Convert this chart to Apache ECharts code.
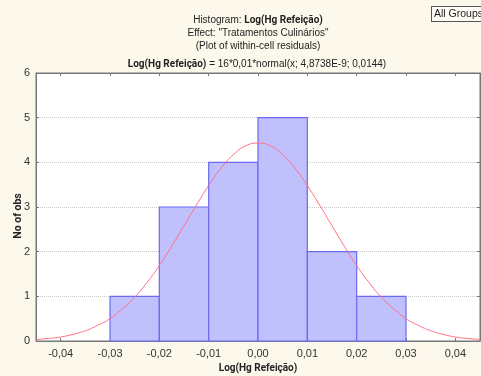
<!DOCTYPE html>
<html>
<head>
<meta charset="utf-8">
<script src="https://cdn.jsdelivr.net/npm/echarts@6/dist/echarts.min.js"></script>
<style>
  html, body { margin: 0; padding: 0; background: #fdf8ec; }
  #chart { width: 481px; height: 376px; }
</style>
</head>
<body>
<div id="chart"></div>
<script>
// Histogram bins (lower edge, upper edge) and counts
const binStarts = [-0.03, -0.02, -0.01, 0.00, 0.01, 0.02];
const binEnds   = [-0.02, -0.01, 0.00, 0.01, 0.02, 0.03];
const counts    = [1, 3, 4, 5, 2, 1];

// Fitted normal curve, sampled along the x range
const curveX = [-0.045, -0.0425, -0.04, -0.0375, -0.035, -0.0325, -0.03, -0.0275, -0.025, -0.0225,
                -0.02, -0.0175, -0.015, -0.0125, -0.01, -0.0075, -0.005, -0.0025, 0,
                0.0025, 0.005, 0.0075, 0.01, 0.0125, 0.015, 0.0175, 0.02, 0.0225, 0.025,
                0.0275, 0.03, 0.0325, 0.035, 0.0375, 0.04, 0.0425, 0.045];
const curveY = [0.034, 0.057, 0.09, 0.15, 0.23, 0.35, 0.50, 0.72, 0.98, 1.31,
                1.69, 2.12, 2.58, 3.04, 3.48, 3.87, 4.17, 4.37, 4.43,
                4.37, 4.17, 3.87, 3.48, 3.04, 2.58, 2.12, 1.69, 1.31, 0.98,
                0.72, 0.50, 0.35, 0.23, 0.15, 0.09, 0.057, 0.034];

// Tick labels
const xTicks = [-0.04, -0.03, -0.02, -0.01, 0.00, 0.01, 0.02, 0.03, 0.04];

const fmtX = v => (Math.abs(v) < 1e-9 ? 0 : v).toFixed(2).replace('.', ',');

const labelFont = 'Liberation Sans, Arial, sans-serif';
const boldFont = 'Roboto, DejaVu Sans, sans-serif';
const axisColor = '#777';

const chart = echarts.init(document.getElementById('chart'), null, { renderer: 'canvas' });

const binData = binStarts.map((s, i) => [s, binEnds[i], counts[i]]);
const curveData = curveX.map((x, i) => [x, curveY[i]]);

chart.setOption({
  backgroundColor: '#fdf8ec',
  animation: false,
  title: [
    {
      text: 'Histogram: {b|Log(Hg Refeição)}\nEffect: "Tratamentos Culinários"\n(Plot of within-cell residuals)',
      left: 253, top: 9, textAlign: 'center',
      textStyle: {
        fontFamily: labelFont, fontSize: 10, fontWeight: 'normal', color: '#222', lineHeight: 13,
        rich: { b: { fontFamily: boldFont, fontWeight: 'bold', fontSize: 10, color: '#222', lineHeight: 13 } }
      }
    },
    {
      text: '{b|Log(Hg Refeição)} = 16*0,01*normal(x; 4,8738E-9; 0,0144)',
      left: 252, top: 54, textAlign: 'center',
      textStyle: {
        fontFamily: labelFont, fontSize: 10, fontWeight: 'normal', color: '#222',
        rich: { b: { fontFamily: boldFont, fontWeight: 'bold', fontSize: 10, color: '#222' } }
      }
    }
  ],
  graphic: [
    {
      type: 'text', left: 431, top: 6,
      style: {
        text: 'All Groups', fontFamily: labelFont, fontSize: 10.5, fill: '#222',
        backgroundColor: '#fffdf6', borderColor: '#555', borderWidth: 1, padding: [2, 2, 1, 2]
      }
    },
    {
      // vertical axis title
      type: 'text', x: 18, y: 216, rotation: Math.PI / 2,
      style: {
        text: 'No of obs', fontFamily: boldFont, fontWeight: 'bold', fontSize: 10.5, fill: '#222',
        align: 'center', verticalAlign: 'middle'
      }
    }
  ],
  grid: {
    left: 36, top: 73, right: 1, bottom: 35,
    outerBoundsMode: 'none', containLabel: false,
    show: true, backgroundColor: '#ffffff', borderColor: axisColor, borderWidth: 1
  },
  xAxis: [
    {
      type: 'value', min: -0.045, max: 0.045,
      name: 'Log(Hg Refeição)', nameLocation: 'middle', nameGap: 21,
      nameTextStyle: { fontFamily: boldFont, fontWeight: 'bold', fontSize: 10, color: '#222' },
      axisLine: { show: true, onZero: false, lineStyle: { color: axisColor } },
      axisTick: { show: true, inside: true, length: 3, lineStyle: { color: axisColor }, customValues: xTicks },
      axisLabel: { color: '#333', fontFamily: labelFont, fontSize: 11, margin: 7, customValues: xTicks, formatter: fmtX },
      splitLine: { show: false }
    },
    {
      type: 'value', min: -0.045, max: 0.045, position: 'top',
      axisLine: { show: true, onZero: false, lineStyle: { color: axisColor } },
      axisTick: { show: true, inside: true, length: 3, lineStyle: { color: axisColor }, customValues: xTicks },
      axisLabel: { show: false },
      splitLine: { show: false }
    }
  ],
  yAxis: [
    {
      type: 'value', min: 0, max: 6, interval: 1,
      axisLine: { show: true, onZero: false, lineStyle: { color: axisColor } },
      axisTick: { show: true, inside: true, length: 3, lineStyle: { color: axisColor } },
      axisLabel: { color: '#333', fontFamily: labelFont, fontSize: 11, margin: 6 },
      splitLine: { show: true, lineStyle: { color: '#c8c8c8', type: 'dotted', width: 1 } }
    },
    {
      type: 'value', min: 0, max: 6, interval: 1, position: 'right',
      axisLine: { show: true, onZero: false, lineStyle: { color: axisColor } },
      axisTick: { show: true, inside: true, length: 3, lineStyle: { color: axisColor } },
      axisLabel: { show: false },
      splitLine: { show: false }
    }
  ],
  series: [
    {
      type: 'custom',
      xAxisIndex: 0, yAxisIndex: 0,
      data: binData,
      encode: { x: [0, 1], y: 2 },
      renderItem: function (params, api) {
        const p0 = api.coord([api.value(0), api.value(2)]);
        const p1 = api.coord([api.value(1), 0]);
        return {
          type: 'rect',
          shape: { x: p0[0], y: p0[1], width: p1[0] - p0[0], height: p1[1] - p0[1] },
          style: { fill: '#c0c0fc', stroke: '#6a6af5', lineWidth: 1.2 }
        };
      },
      z: 2
    },
    {
      type: 'line',
      xAxisIndex: 0, yAxisIndex: 0,
      data: curveData,
      smooth: true,
      showSymbol: false,
      symbol: 'none',
      lineStyle: { color: '#ff7080', width: 1 },
      z: 3
    }
  ]
});
</script>
</body>
</html>
